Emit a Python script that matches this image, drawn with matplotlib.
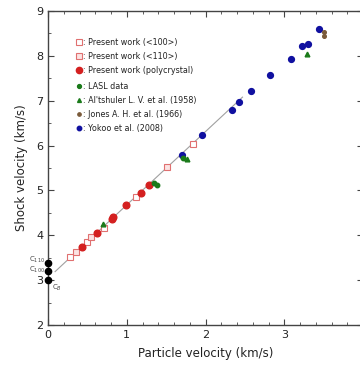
import matplotlib
matplotlib.use("Agg")
import matplotlib.pyplot as plt
from matplotlib.ticker import MultipleLocator, FixedLocator, FixedFormatter
from matplotlib.lines import Line2D

# Data
sq100_x = [0.28, 0.50, 0.715, 1.12, 1.84]
sq100_y = [3.51, 3.86, 4.16, 4.86, 6.04]
sq110_x = [0.355, 0.54, 1.51]
sq110_y = [3.62, 3.97, 5.53]
poly_x = [0.43, 0.62, 0.81, 0.82, 0.99, 1.18, 1.28]
poly_y = [3.75, 4.06, 4.37, 4.40, 4.68, 4.95, 5.13]
lasl_x = [1.345, 1.38, 1.71]
lasl_y = [5.16, 5.12, 5.72]
alt_x = [0.70, 1.77, 3.29]
alt_y = [4.26, 5.70, 8.04]
jones_x = [3.51, 3.51]
jones_y = [8.54, 8.45]
yokoo_x = [1.70, 1.96, 2.34, 2.43, 2.58, 2.82, 3.08, 3.23, 3.30, 3.44]
yokoo_y = [5.79, 6.24, 6.80, 6.97, 7.21, 7.57, 7.92, 8.22, 8.27, 8.60]
fit_x = [0.09, 2.47]
fit_y = [3.19, 7.08]
c_y = [3.39, 3.21, 3.01]
c_labels = ["C$_{110}$", "C$_{100}$", "C$_{B}$"]
x_ticks = [0, 1, 2, 3, 4]
x_ticklabels = ["0", "1", "2", "3", ""]

dark = "#444444"
fig = plt.figure(figsize=(3.6, 3.67), dpi=100)
ax = fig.add_axes([48/360, 42/367, 315/360, 314/367])
ax.set_xlim(0, 4)
ax.set_ylim(2, 9)

ax.plot(fit_x, fit_y, color="#a0a0a0", lw=0.8, zorder=1)

red = "#d42020"
pink = "#e07070"
ax.plot(sq100_x, sq100_y, ls="none", marker="s", ms=5, mfc="white", mec=pink, mew=0.8, zorder=3)
ax.plot(sq110_x, sq110_y, ls="none", marker="s", ms=5, mfc="#fbe3e3", mec=pink, mew=0.8, zorder=3)
ax.plot(poly_x, poly_y, ls="none", marker="o", ms=4.8, color=red, zorder=4)
ax.plot(lasl_x, lasl_y, ls="none", marker="o", ms=3.2, color="#1a7a1a", zorder=5)
ax.plot(alt_x, alt_y, ls="none", marker="^", ms=3.4, color="#1a7a1a", zorder=5)
ax.plot(jones_x, jones_y, ls="none", marker="o", ms=2.6, color="#7a5a3a", zorder=5)
ax.plot(yokoo_x, yokoo_y, ls="none", marker="o", ms=4.2, color="#1010a0", zorder=4)
ax.plot([0]*3, c_y, ls="none", marker="o", ms=4.5, color="black", clip_on=False, zorder=6)

ax.text(-0.04, 3.45, c_labels[0], ha="right", va="center", fontsize=5, color=dark)
ax.text(-0.04, 3.22, c_labels[1], ha="right", va="center", fontsize=5, color=dark)
ax.text(0.05, 2.83, c_labels[2], ha="left", va="center", fontsize=5, color=dark)

# legends
def h(**kw):
    return Line2D([], [], ls="none", **kw)

h1 = [h(marker="s", ms=4.5, mfc="white", mec=pink, mew=0.8),
      h(marker="s", ms=4.5, mfc="#fbe3e3", mec=pink, mew=0.8),
      h(marker="o", ms=4.5, color=red)]
l1 = [": Present work (<100>)", ": Present work (<110>)", ": Present work (polycrystal)"]
h2 = [h(marker="o", ms=2.8, color="#1a7a1a"),
      h(marker="^", ms=2.8, color="#1a7a1a"),
      h(marker="o", ms=2.4, color="#7a5a3a"),
      h(marker="o", ms=3.2, color="#1010a0")]
l2 = [": LASL data", ": Al'tshuler L. V. et al. (1958)", ": Jones A. H. et al. (1966)", ": Yokoo et al. (2008)"]
kw = dict(frameon=False, fontsize=5.8, handlelength=0.6, handletextpad=0.15,
          labelspacing=0.62, borderpad=0, labelcolor="#222222")
leg1 = ax.legend(h1, l1, loc="upper left", bbox_to_anchor=(0.078, 0.927), **kw)
ax.add_artist(leg1)
ax.legend(h2, l2, loc="upper left", bbox_to_anchor=(0.078, 0.786), **kw)

ax.xaxis.set_major_locator(FixedLocator(x_ticks))
ax.xaxis.set_major_formatter(FixedFormatter(x_ticklabels))
ax.xaxis.set_minor_locator(MultipleLocator(0.2))
ax.yaxis.set_major_locator(MultipleLocator(1))
ax.yaxis.set_minor_locator(MultipleLocator(0.5))
ax.tick_params(which="both", direction="in", top=True, right=True, colors=dark,
               labelcolor="#222222", labelsize=8)
ax.tick_params(which="major", length=4, width=0.8)
ax.tick_params(which="minor", length=2, width=0.6)
for s in ax.spines.values():
    s.set_color(dark)
    s.set_linewidth(1.0)

ax.set_xlabel("Particle velocity (km/s)", fontsize=8.5, color="#222222", labelpad=5)
ax.set_ylabel("Shock velocity (km/s)", fontsize=8.5, color="#222222", labelpad=6)

fig.savefig("out.png", dpi=100)
